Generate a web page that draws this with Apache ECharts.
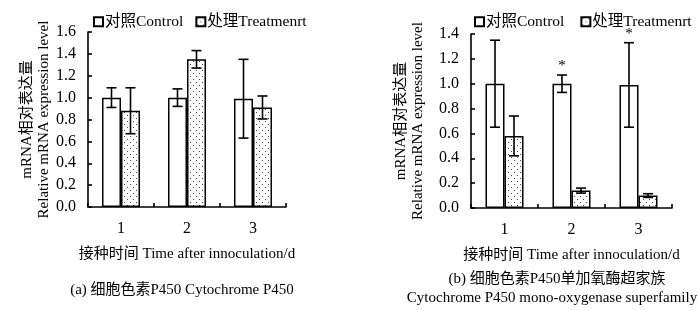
<!DOCTYPE html>
<html>
<head>
<meta charset="utf-8">
<script src="https://cdn.jsdelivr.net/npm/echarts@6/dist/echarts.min.js"></script>
<style>
  html, body { margin: 0; padding: 0; background: #fff; }
  #chart { width: 700px; height: 311px; }
</style>
</head>
<body>
<div id="chart"></div>
<script>
// data
const categories = ['1', '2', '3']
const seriesNames = ['对照Control', '处理Treatmenrt']

// (a) Cytochrome P450
const ctrlA = [1.0, 1.0, 0.99]
const ctrlAErr = [0.09, 0.08, 0.36]
const trtA = [0.88, 1.35, 0.91]
const trtAErr = [0.21, 0.08, 0.105]

// (b) mono-oxygenase superfamily
const ctrlB = [1.0, 1.0, 0.99]
const ctrlBErr = [0.35, 0.07, 0.34]
const trtB = [0.58, 0.14, 0.10]
const trtBErr = [0.16, 0.02, 0.015]
const sigB = ['', '*', '*']

const yMaxA = 1.6
const yMaxB = 1.4
const yStep = 0.2

const FONT = '"Liberation Serif", "Times New Roman", "Noto Sans CJK SC", serif'
const BAR_W = 19

const chart = echarts.init(document.getElementById('chart'))

// dotted fill for the treatment bars
const makeDots = () => {
  const c = document.createElement('canvas')
  c.width = 6
  c.height = 6
  const g = c.getContext('2d')
  g.fillStyle = '#fff'
  g.fillRect(0, 0, 6, 6)
  g.fillStyle = '#444'
  g.fillRect(1, 1, 1, 1)
  g.fillRect(4, 4, 1, 1)
  return c
}
const dotFill = { image: makeDots(), repeat: 'repeat' }

const barItem = (fill) => ({ color: fill, borderColor: '#000', borderWidth: 1.5 })

// error bars (plus optional significance star) through the axis scale
const errorSeries = (gridIdx, vals, errs, offset, stars) => ({
  type: 'custom',
  xAxisIndex: gridIdx,
  yAxisIndex: gridIdx,
  z: 5,
  silent: true,
  data: vals.map((v, i) => [i, v, errs[i]]),
  renderItem: (params, api) => {
    const i = api.value(0)
    const v = api.value(1)
    const e = api.value(2)
    const hi = api.coord([i, v + e])
    const lo = api.coord([i, v - e])
    const x = hi[0] + offset
    const st = { stroke: '#000', lineWidth: 1.6 }
    const kids = [
      { type: 'line', shape: { x1: x, y1: hi[1], x2: x, y2: lo[1] }, style: st },
      { type: 'line', shape: { x1: x - 5, y1: hi[1], x2: x + 5, y2: hi[1] }, style: st },
      { type: 'line', shape: { x1: x - 5, y1: lo[1], x2: x + 5, y2: lo[1] }, style: st }
    ]
    if (stars && stars[params.dataIndex]) {
      kids.push({
        type: 'text',
        style: {
          text: stars[params.dataIndex], x: x, y: hi[1] - 1,
          align: 'center', verticalAlign: 'bottom',
          font: '15px ' + FONT, fill: '#000'
        }
      })
    }
    return { type: 'group', children: kids }
  }
})

const xAxisFor = (gridIdx) => ({
  type: 'category',
  gridIndex: gridIdx,
  data: categories,
  axisLine: { lineStyle: { color: '#000', width: 1.6 } },
  axisTick: { show: true, inside: true, length: 4, lineStyle: { color: '#000', width: 1.6 } },
  axisLabel: { color: '#000', fontSize: 16, fontFamily: FONT, margin: 14 },
  name: '接种时间 Time after innoculation/d',
  nameLocation: 'middle',
  nameGap: 40,
  nameTextStyle: { color: '#000', fontSize: 15, fontFamily: FONT }
})

const yAxisFor = (gridIdx, max, gap) => ({
  type: 'value',
  gridIndex: gridIdx,
  min: 0,
  max: max,
  interval: yStep,
  axisLine: { show: true, lineStyle: { color: '#000', width: 1.6 } },
  axisTick: { show: true, inside: true, length: 4, lineStyle: { color: '#000', width: 1.6 } },
  splitLine: { show: false },
  axisLabel: { color: '#000', fontSize: 16, fontFamily: FONT, margin: 12, formatter: v => v.toFixed(1) },
  name: 'mRNA相对表达量\nRelative mRNA expression level',
  nameLocation: 'middle',
  nameRotate: 90,
  nameGap: gap,
  nameTextStyle: { color: '#000', fontSize: 15, fontFamily: FONT, lineHeight: 17 }
})

const legendFor = (left, gap) => ({
  left: left,
  top: 9,
  width: 260,
  icon: 'rect',
  itemWidth: 9,
  itemHeight: 9,
  itemGap: gap,
  data: seriesNames,
  textStyle: { color: '#000', fontSize: 15.5, fontFamily: FONT, padding: [0, 0, 0, -3] }
})

const caption = (text, x, y) => ({
  type: 'text', x: x, y: y,
  style: { text: text, font: '15px ' + FONT, fill: '#000', align: 'center', verticalAlign: 'middle' }
})

const option = {
  animation: false,
  backgroundColor: '#fff',
  grid: [
    { left: 88, top: 32, width: 198, height: 175 },
    { left: 471, top: 34, width: 201, height: 174 }
  ],
  legend: [legendFor(88, 12), legendFor(469, 16)],
  xAxis: [xAxisFor(0), xAxisFor(1)],
  yAxis: [yAxisFor(0, yMaxA, 32), yAxisFor(1, yMaxB, 44)],
  series: [
    { name: seriesNames[0], type: 'bar', xAxisIndex: 0, yAxisIndex: 0, data: ctrlA, barWidth: BAR_W, barGap: '0%', itemStyle: barItem('#fff') },
    { name: seriesNames[1], type: 'bar', xAxisIndex: 0, yAxisIndex: 0, data: trtA, barWidth: BAR_W, barGap: '0%', itemStyle: barItem(dotFill) },
    { name: seriesNames[0], type: 'bar', xAxisIndex: 1, yAxisIndex: 1, data: ctrlB, barWidth: BAR_W, barGap: '0%', itemStyle: barItem('#fff') },
    { name: seriesNames[1], type: 'bar', xAxisIndex: 1, yAxisIndex: 1, data: trtB, barWidth: BAR_W, barGap: '0%', itemStyle: barItem(dotFill) },
    errorSeries(0, ctrlA, ctrlAErr, -BAR_W / 2),
    errorSeries(0, trtA, trtAErr, BAR_W / 2),
    errorSeries(1, ctrlB, ctrlBErr, -BAR_W / 2, sigB),
    errorSeries(1, trtB, trtBErr, BAR_W / 2)
  ],
  graphic: [
    caption('(a) 细胞色素P450 Cytochrome P450', 182, 290),
    caption('(b) 细胞色素P450单加氧酶超家族', 557, 279),
    caption('Cytochrome P450 mono-oxygenase superfamily', 552, 298)
  ]
}

chart.setOption(option)
</script>
</body>
</html>
